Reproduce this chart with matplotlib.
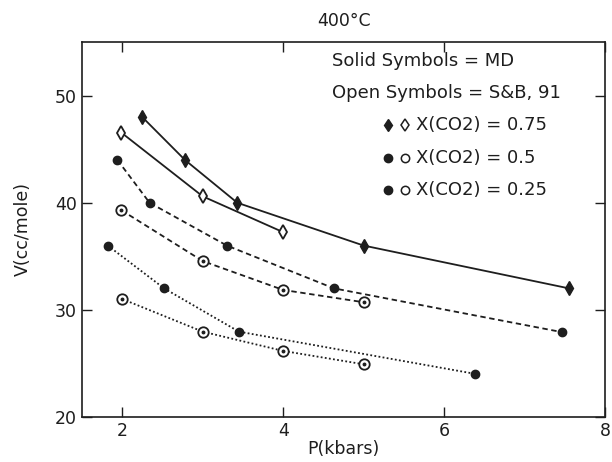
import matplotlib
matplotlib.use("Agg")
import matplotlib.pyplot as plt

# Data
md_075_p = [2.25, 2.78, 3.43, 5.0, 7.55]
md_075_v = [48.0, 44.0, 40.0, 36.0, 32.0]
sb_075_p = [1.99, 3.0, 4.0]
sb_075_v = [46.55, 40.6, 37.25]

md_05_p = [1.94, 2.34, 3.3, 4.63, 7.47]
md_05_v = [44.0, 40.0, 36.0, 32.0, 27.9]
sb_05_p = [1.99, 3.0, 4.0, 5.0]
sb_05_v = [39.3, 34.55, 31.85, 30.7]

md_025_p = [1.82, 2.52, 3.45, 6.39]
md_025_v = [36.0, 32.0, 27.95, 24.0]
sb_025_p = [2.0, 3.0, 4.0, 5.0]
sb_025_v = [31.0, 27.95, 26.15, 24.9]

x_ticks = [2, 4, 6, 8]
y_ticks = [20, 30, 40, 50]

plt.rcParams['font.family'] = ['DejaVu Sans']
fig = plt.figure(figsize=(6.12, 4.62), dpi=100)
ax = fig.add_axes([82/612, 1-416.7/462, (605-82)/612, (416.7-42.3)/462])

c = '#1e1e1e'
lw = 1.3
fs = 12.5

# x=0.75
ax.plot(md_075_p, md_075_v, '-', color=c, lw=lw, marker='d', ms=7, mfc=c, mec=c)
ax.plot(sb_075_p, sb_075_v, '-', color=c, lw=lw, marker='d', ms=7.5, mfc='white', mec=c, mew=1.3)
# x=0.5
ax.plot(md_05_p, md_05_v, '--', color=c, lw=lw, dashes=(3, 2), marker='o', ms=6, mfc=c, mec=c)
ax.plot(sb_05_p, sb_05_v, '--', color=c, lw=lw, dashes=(3, 2), marker='o', ms=7.5, mfc='white', mec=c, mew=1.3)
ax.plot(sb_05_p, sb_05_v, ls='none', marker='o', ms=1.8, color=c)
# x=0.25
ax.plot(md_025_p, md_025_v, ':', color=c, lw=lw, dashes=(1, 1.3), marker='o', ms=6, mfc=c, mec=c)
ax.plot(sb_025_p, sb_025_v, ':', color=c, lw=lw, dashes=(1, 1.3), marker='o', ms=7.5, mfc='white', mec=c, mew=1.3)
ax.plot(sb_025_p, sb_025_v, ls='none', marker='o', ms=1.8, color=c)

ax.set_xlim(1.5, 8)
ax.set_ylim(20, 55)
ax.set_xticks(x_ticks)
ax.set_yticks(y_ticks)
ax.tick_params(direction='in', length=7, width=1, top=True, right=True,
               labelsize=fs, colors=c)
for s in ax.spines.values():
    s.set_linewidth(1.2)
    s.set_color(c)

ax.set_title('400°C', fontsize=fs, color=c, pad=12)
ax.set_xlabel('P(kbars)', fontsize=fs, color=c, labelpad=0)
ax.set_ylabel('V(cc/mole)', fontsize=fs, color=c, labelpad=17)

tx = fig.transFigure
def fy(py):
    return 1 - py / 462

fs2 = 13
fig.text(332/612, fy(61), 'Solid Symbols = MD', fontsize=fs2, color=c, va='center', ha='left')
fig.text(332/612, fy(93), 'Open Symbols = S&B, 91', fontsize=fs2, color=c, va='center', ha='left')

rows = [(125, 'd', 'd', 'X(CO2) = 0.75'), (158, 'o', 'o', 'X(CO2) = 0.5'), (190, 'o', 'o', 'X(CO2) = 0.25')]
for py, m1, m2, label in rows:
    fig.lines.append(plt.Line2D([388/612], [fy(py)], transform=tx, marker=m1, ms=6,
                                mfc=c, mec=c, ls='none'))
    fig.lines.append(plt.Line2D([405/612], [fy(py)], transform=tx, marker=m2, ms=6,
                                mfc='white', mec=c, mew=1.1, ls='none'))
    fig.text(416/612, fy(py), label, fontsize=fs2, color=c, va='center', ha='left')

fig.savefig('out.png', dpi=100)
